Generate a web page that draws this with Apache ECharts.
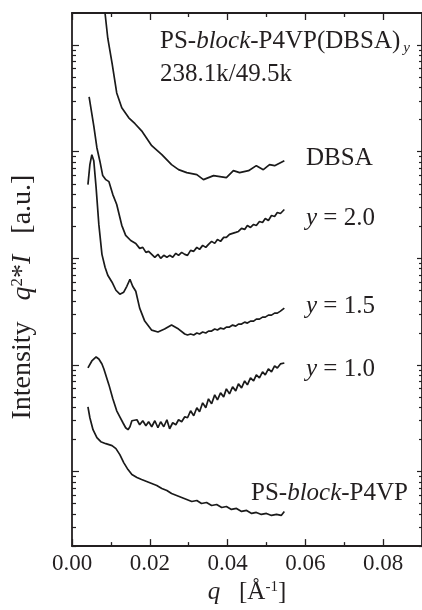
<!DOCTYPE html>
<html>
<head>
<meta charset="utf-8">
<script src="https://cdn.jsdelivr.net/npm/echarts@6/dist/echarts.min.js"></script>
<style>
html, body { margin: 0; padding: 0; background: #fff; }
#main { width: 422px; height: 610px; }
</style>
</head>
<body>
<div id="main"></div>
<script>
// q in 1/A, intensity q^2*I in arbitrary units (log scale)
var qDBSA = [0.0074,0.0085,0.0092,0.0103,0.0115,0.0128,0.0146,0.0162,0.0179,0.0205,0.0231,0.0256,0.0274,0.0295,0.0321,0.0338,0.0364,0.0397,0.0415,0.0431,0.0454,0.0474,0.0492,0.0508,0.0521,0.0546];
var iDBSA = [32700,19900,11600,6790,3560,2580,2080,1830,1570,1140,938,756,679,636,609,547,597,571,664,636,664,740,679,756,740,824];

var qY20 = [0.0044,0.0056,0.0064,0.0072,0.0079,0.0087,0.0095,0.0105,0.0115,0.0128,0.0138,0.0151,0.0164,
  0.0174,0.0182,0.0190,0.0197,0.0205,0.0213,0.0221,0.0228,0.0236,0.0244,0.0251,0.0259,0.0267,0.0274,0.0282,0.0290,
  0.0297,0.0305,0.0313,0.0321,0.0328,0.0336,0.0344,0.0351,0.0359,0.0367,0.0374,0.0382,0.0390,0.0397,0.0405,0.0413,
  0.0421,0.0428,0.0436,0.0444,0.0451,0.0459,0.0467,0.0474,0.0482,0.0490,0.0497,0.0505,0.0513,0.0521,0.0528,0.0536,0.0546];
var iY20 = [3266,1750,1090,806,597,547,524,396,320,204,164,147,138,
  124.0,126.7,113.8,116.3,109.0,102.2,109.0,100,106.7,102.2,106.7,102.2,111.4,106.7,113.8,109.0,
  106.7,118.8,116.3,126.7,121.4,132.3,126.7,135.2,144.2,138.1,150.5,144.2,157.2,157.2,167.6,171.3,
  175.0,178.8,190.8,186.7,203.5,194.9,207.9,203.5,221.8,217.1,236.6,226.6,252.3,247.0,269.2,263.4,287.1];

var qY15 = [0.0041,0.0046,0.0051,0.0056,0.0062,0.0069,0.0077,0.0085,0.0092,0.0103,0.0113,0.0123,0.0133,0.0141,0.0149,0.0156,0.0164,
  0.0174,0.0187,0.0205,0.0221,0.0238,0.0256,0.0274,0.0290,
  0.0297,0.0305,0.0313,0.0321,0.0328,0.0336,0.0344,0.0351,0.0359,0.0367,0.0374,0.0382,0.0390,0.0397,0.0405,0.0413,
  0.0421,0.0428,0.0436,0.0444,0.0451,0.0459,0.0467,0.0474,0.0482,0.0490,0.0497,0.0505,0.0513,0.0521,0.0528,0.0536,0.0546];
var iY15 = [491,756,938,824,461,208,109,82.4,69.4,59.7,50.2,46.1,48.1,54.7,63.6,54.7,49.1,
  34.1,25.8,21.2,20.4,21.7,23.7,21.7,19.5,
  19.08,19.49,19.08,19.92,19.49,20.35,19.92,20.79,20.79,21.71,21.24,22.18,21.71,22.66,22.66,23.66,
  23.15,24.17,24.17,25.23,24.70,25.78,25.78,26.92,26.92,28.10,28.10,29.33,29.33,30.62,30.62,31.96,34.10];

var qY10 = [0.0041,0.0051,0.0062,0.0069,0.0077,0.0082,0.0095,0.0105,0.0115,0.0123,0.0131,0.0138,0.0144,0.0149,0.0154,0.0159,
  0.0167,0.0174,0.0182,0.0190,0.0197,0.0205,0.0213,0.0221,0.0228,0.0236,0.0244,0.0251,0.0259,0.0267,0.0274,0.0282,0.0290,
  0.0297,0.0305,0.0313,0.0321,0.0328,0.0336,0.0344,0.0351,0.0359,0.0367,0.0374,0.0382,0.0390,0.0397,0.0405,0.0413,
  0.0421,0.0428,0.0436,0.0444,0.0451,0.0459,0.0467,0.0474,0.0482,0.0490,0.0497,0.0505,0.0513,0.0521,0.0528,0.0536,0.0546];
var iY10 = [9.375,10.90,11.88,11.38,10.22,9.175,6.502,4.810,3.715,3.266,2.870,2.577,2.469,2.633,2.996,2.870,
  3.062,2.749,2.996,2.691,2.933,2.633,2.996,2.577,2.933,2.633,3.062,2.522,2.870,2.749,3.062,2.933,3.266,
  3.197,3.715,3.337,3.963,3.637,4.413,3.963,4.810,4.319,5.242,4.707,5.473,5.021,5.965,5.357,6.227,
  5.714,6.643,6.095,7.086,6.502,7.559,7.086,8.063,7.559,8.602,8.063,9.175,8.602,9.787,9.375,10.22,10.44];

var qPS = [0.0041,0.0046,0.0054,0.0064,0.0074,0.0087,0.0103,0.0113,0.0123,0.0133,0.0144,0.0154,0.0167,0.0179,0.0192,
  0.0205,0.0218,0.0231,0.0244,0.0256,0.0269,0.0282,0.0295,0.0308,0.0321,0.0333,0.0346,0.0359,0.0372,0.0385,
  0.0397,0.0410,0.0423,0.0436,0.0449,0.0462,0.0474,0.0487,0.0500,0.0513,0.0526,0.0538,0.0546];
var iPS = [4.049,3.197,2.469,2.079,1.907,1.827,1.750,1.641,1.442,1.214,1.044,0.9375,0.8789,0.8418,0.8063,
  0.7723,0.7398,0.6935,0.6643,0.6227,0.5965,0.5714,0.5473,0.5242,0.5357,0.5021,0.5131,0.4810,0.4914,0.4607,
  0.4707,0.4413,0.4509,0.4227,0.4319,0.4049,0.4137,0.3963,0.4049,0.3879,0.3963,0.3879,0.4227];

var xMajorTicks = [0, 0.02, 0.04, 0.06, 0.08];
var xMinorTicks = [0.01, 0.03, 0.05, 0.07];
var yDecades = [1, 10, 100, 1000, 10000];

var FONT = '"Liberation Serif", "Times New Roman", serif';
var INK = '#231f20';

function zip(xs, ys) {
    var out = [];
    for (var i = 0; i < xs.length; i++) {
        out.push([xs[i], ys[i]]);
    }
    return out;
}

// minor ticks 2..9 in each decade inside the axis range
var yMinor = [];
for (var d = 0.1; d <= 1000; d *= 10) {
    for (var k = 2; k <= 9; k++) {
        var v = Math.round(d * k * 1000) / 1000;
        if (v >= 0.2 && v < 20000) yMinor.push(v);
    }
}

var myChart = echarts.init(document.getElementById('main'), null, { renderer: 'canvas' });

function xAxisDef(pos, ticks, len, withLine, withLabel) {
    return {
        type: 'value', position: pos, min: 0, max: 0.09,
        axisLine: { show: withLine, onZero: false, lineStyle: { color: INK, width: 1.8 } },
        axisTick: { show: true, inside: true, length: len, customValues: ticks, lineStyle: { color: INK, width: 1.3 } },
        axisLabel: withLabel ? {
            show: true, customValues: xMajorTicks, margin: 6, color: INK,
            fontFamily: FONT, fontSize: 23,
            formatter: function (v) { return v.toFixed(2); }
        } : { show: false },
        splitLine: { show: false }
    };
}

function yAxisDef(pos, ticks, len, withLine) {
    return {
        type: 'log', logBase: 10, position: pos, min: 0.2, max: 20000,
        axisLine: { show: withLine, onZero: false, lineStyle: { color: INK, width: 1.8 } },
        axisTick: { show: true, inside: true, length: len, customValues: ticks, lineStyle: { color: INK, width: 1.2 } },
        axisLabel: { show: false },
        splitLine: { show: false }
    };
}

var xs = [
    xAxisDef('bottom', xMajorTicks, 7, true, true),
    xAxisDef('bottom', xMinorTicks, 4, false, false),
    xAxisDef('top', xMajorTicks, 7, true, false),
    xAxisDef('top', xMinorTicks, 4, false, false)
];
xs[0].name = '{i|q}   [Å{sup|-1}]';
xs[0].nameLocation = 'middle';
xs[0].nameGap = 30;
xs[0].nameTextStyle = {
    color: INK, fontFamily: FONT, fontSize: 25,
    rich: {
        i: { fontFamily: FONT, fontSize: 25, fontStyle: 'italic', color: INK },
        sup: { fontFamily: FONT, fontSize: 15, color: INK, verticalAlign: 'top' }
    }
};

var ys = [
    yAxisDef('left', yDecades, 7, true),
    yAxisDef('left', yMinor, 4, false),
    yAxisDef('right', yDecades, 5, true),
    yAxisDef('right', yMinor, 3, false)
];
ys[0].name = 'Intensity   {i|q}{sup|2}{t|*}{i|I}   [a.u.]';
ys[0].nameLocation = 'middle';
ys[0].nameGap = 35;
ys[0].nameTextStyle = {
    color: INK, fontFamily: FONT, fontSize: 28, padding: [0, 35, 0, 0],
    rich: {
        i: { fontFamily: FONT, fontSize: 28, fontStyle: 'italic', color: INK },
        t: { fontFamily: FONT, fontSize: 28, color: INK },
        sup: { fontFamily: FONT, fontSize: 17, color: INK, verticalAlign: 'top' }
    }
};

function curve(name, q, inten) {
    return {
        name: name, type: 'line', xAxisIndex: 0, yAxisIndex: 0,
        data: zip(q, inten), showSymbol: false, symbol: 'none', clip: true,
        lineStyle: { color: '#1a1a1a', width: 1.7 },
        emphasis: { disabled: true }
    };
}

var base = '25px ' + FONT;
var ital = 'italic 25px ' + FONT;
var richStyle = {
    n: { font: base, fill: INK },
    i: { font: ital, fill: INK },
    s: { font: 'italic 15px ' + FONT, fill: INK, padding: [14, 0, 0, 3] }
};
function note(x, y, text) {
    return {
        type: 'text', x: x, y: y,
        style: { text: text, font: base, fill: INK, verticalAlign: 'middle', align: 'left', rich: richStyle }
    };
}

var option = {
    animation: false,
    grid: { left: 72, top: 13, width: 351, height: 535, containLabel: false },
    xAxis: xs,
    yAxis: ys,
    series: [
        curve('DBSA', qDBSA, iDBSA),
        curve('y = 2.0', qY20, iY20),
        curve('y = 1.5', qY15, iY15),
        curve('y = 1.0', qY10, iY10),
        curve('PS-block-P4VP', qPS, iPS)
    ],
    graphic: [
        note(160, 41, '{n|PS-}{i|block}{n|-P4VP(DBSA)}{s|y}'),
        note(160, 74, '238.1k/49.5k'),
        note(306, 158, 'DBSA'),
        note(306, 218, '{i|y}{n| = 2.0}'),
        note(306, 306, '{i|y}{n| = 1.5}'),
        note(306, 369, '{i|y}{n| = 1.0}'),
        note(251, 493, '{n|PS-}{i|block}{n|-P4VP}')
    ]
};
myChart.setOption(option);
</script>
</body>
</html>
